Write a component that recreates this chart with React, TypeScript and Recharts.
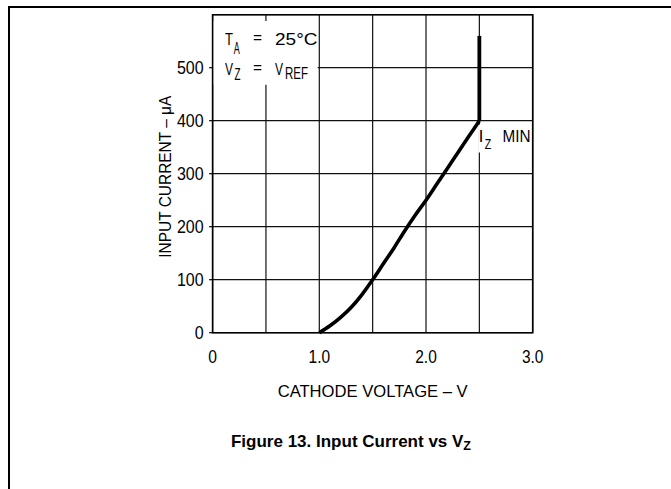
import React from "react";
import { LineChart, Line, XAxis, YAxis, CartesianGrid, ReferenceArea, Label } from "recharts";

// input current (uA) vs cathode voltage (V)
const curveVolts = [1.0, 1.1, 1.2, 1.3, 1.4, 1.5, 1.6, 1.7, 1.8, 1.9, 2.0, 2.1, 2.2, 2.3, 2.4, 2.5];
const curveMicroAmps = [0, 13, 29, 48, 72, 100, 130, 160, 192, 222, 250, 280, 310, 340, 370, 400];
const riserVolts = [2.5, 2.5];
const riserMicroAmps = [400, 560];

const xTicks = [0, 0.5, 1, 1.5, 2, 2.5, 3];
const xTickLabels = ["0", "", "1.0", "", "2.0", "", "3.0"];
const yTicks = [0, 100, 200, 300, 400, 500, 600];
const yTickLabels = ["0", "100", "200", "300", "400", "500", ""];

const curve = curveVolts.map((v, i) => ({ v, i: curveMicroAmps[i] }));
const riser = riserVolts.map((v, i) => ({ v, i: riserMicroAmps[i] }));

const PLOT_FONT = "'Liberation Sans', Arial, sans-serif";

// plotter-style narrow text: squeeze to a fixed width
const Narrow = ({ w, size = 16.5, children, ...rest }: any) => (
  <text
    fontFamily={PLOT_FONT}
    fontSize={size}
    fill="#000"
    textLength={w}
    lengthAdjust={w ? "spacingAndGlyphs" : undefined}
    {...rest}
  >
    {children}
  </text>
);

const XTick = (props: any) => {
  const { x, y, payload } = props;
  const label = xTickLabels[xTicks.indexOf(payload.value)];
  if (!label) return <g />;
  return (
    <Narrow x={x} y={y + 22.6} textAnchor="middle" size={18} w={label.length === 1 ? 8.7 : 21.5}>
      {label}
    </Narrow>
  );
};

const YTick = (props: any) => {
  const { x, y, payload } = props;
  const label = yTickLabels[yTicks.indexOf(payload.value)];
  if (!label) return <g />;
  return (
    <g>
      <line x1={x + 5.5} x2={x + 9} y1={y} y2={y} stroke="#000" strokeWidth={1.2} />
      <Narrow x={x} y={y + 6.5} textAnchor="end" size={18} w={label.length * 8.9}>
        {label}
      </Narrow>
    </g>
  );
};

const Conditions = (props: any) => {
  const { x, y } = props.viewBox;
  return (
    <g>
      <Narrow x={x + 12.4} y={y + 24.2} w={8}>T</Narrow>
      <Narrow x={x + 21.2} y={y + 32.8} w={6}>A</Narrow>
      <Narrow x={x + 40.4} y={y + 22.2} w={9}>=</Narrow>
      <Narrow x={x + 62.4} y={y + 24.2} w={42.5}>25°C</Narrow>
      <Narrow x={x + 12.4} y={y + 54.2} w={8}>V</Narrow>
      <Narrow x={x + 22} y={y + 59.2} w={6}>Z</Narrow>
      <Narrow x={x + 40.4} y={y + 52.2} w={9}>=</Narrow>
      <Narrow x={x + 62.4} y={y + 54.2} w={8}>V</Narrow>
      <Narrow x={x + 72.4} y={y + 58.4} w={23}>REF</Narrow>
    </g>
  );
};

const IzMin = (props: any) => {
  const { x, y } = props.viewBox;
  return (
    <g>
      <Narrow x={x + 0.4} y={y + 18} size={16.5}>I</Narrow>
      <Narrow x={x + 6.5} y={y + 25} size={15.5} w={6.5}>Z</Narrow>
      <Narrow x={x + 24.2} y={y + 18} size={16.5} w={28}>MIN</Narrow>
    </g>
  );
};

export default function App() {
  return (
    <div style={{ position: "absolute", left: 0, top: 0, width: 671, height: 489, background: "#fff" }}>
      <div
        style={{
          position: "absolute",
          left: 8,
          top: 6,
          width: 663,
          height: 483,
          borderTop: "2px solid #000",
          borderLeft: "2px solid #000",
          boxSizing: "border-box",
        }}
      />
      <div style={{ position: "absolute", left: 0, top: 0 }}>
        <LineChart width={671} height={489} margin={{ top: 14.7, right: 138.3, bottom: 126.3, left: 152.6 }}>
          <CartesianGrid stroke="#111" strokeWidth={1.2} horizontal vertical />
          <XAxis
            type="number"
            dataKey="v"
            domain={[0, 3]}
            ticks={xTicks}
            height={30}
            axisLine={false}
            tickLine={false}
            tick={<XTick />}
            interval={0}
          >
            <Label
              content={(p: any) => (
                <Narrow x={p.viewBox.x + p.viewBox.width / 2} y={p.viewBox.y + 64.3} textAnchor="middle" w={190}>
                  CATHODE VOLTAGE – V
                </Narrow>
              )}
            />
          </XAxis>
          <YAxis
            type="number"
            dataKey="i"
            domain={[0, 600]}
            ticks={yTicks}
            width={60}
            axisLine={false}
            tickLine={false}
            tickSize={4}
            tickMargin={5}
            tick={<YTick />}
            interval={0}
          >
            <Label
              content={(p: any) => {
                const cx = 171;
                const cy = p.viewBox.y + p.viewBox.height / 2 + 3;
                return (
                  <Narrow x={cx} y={cy} transform={`rotate(-90, ${cx}, ${cy})`} textAnchor="middle" w={162}>
                    INPUT CURRENT – μA
                  </Narrow>
                );
              }}
            />
          </YAxis>
          <ReferenceArea x1={0} x2={0.985} y1={468} y2={588} fill="#fff" fillOpacity={1} stroke="none" label={(p: any) => <Conditions {...p} />} />
          <ReferenceArea x1={2.49} x2={2.99} y1={340} y2={393} fill="#fff" fillOpacity={1} stroke="none" label={(p: any) => <IzMin {...p} />} />
          <ReferenceArea x1={0} x2={3} y1={0} y2={600} fill="none" stroke="#000" strokeWidth={1.6} />
          <Line data={curve} dataKey="i" type="monotone" stroke="#000" strokeWidth={3.6} dot={false} isAnimationActive={false} />
          <Line data={riser} dataKey="i" type="linear" stroke="#000" strokeWidth={3.8} dot={false} isAnimationActive={false} />
        </LineChart>
      </div>
      <div
        style={{
          position: "absolute",
          left: 0,
          width: 702,
          top: 432,
          textAlign: "center",
          fontFamily: "'Liberation Sans', Arial, sans-serif",
          fontWeight: "bold",
          fontSize: 17,
          color: "#000",
          whiteSpace: "nowrap",
        }}
      >
        Figure 13. Input Current vs V<sub style={{ fontSize: 12.5, verticalAlign: "-3px" }}>Z</sub>
      </div>
    </div>
  );
}
